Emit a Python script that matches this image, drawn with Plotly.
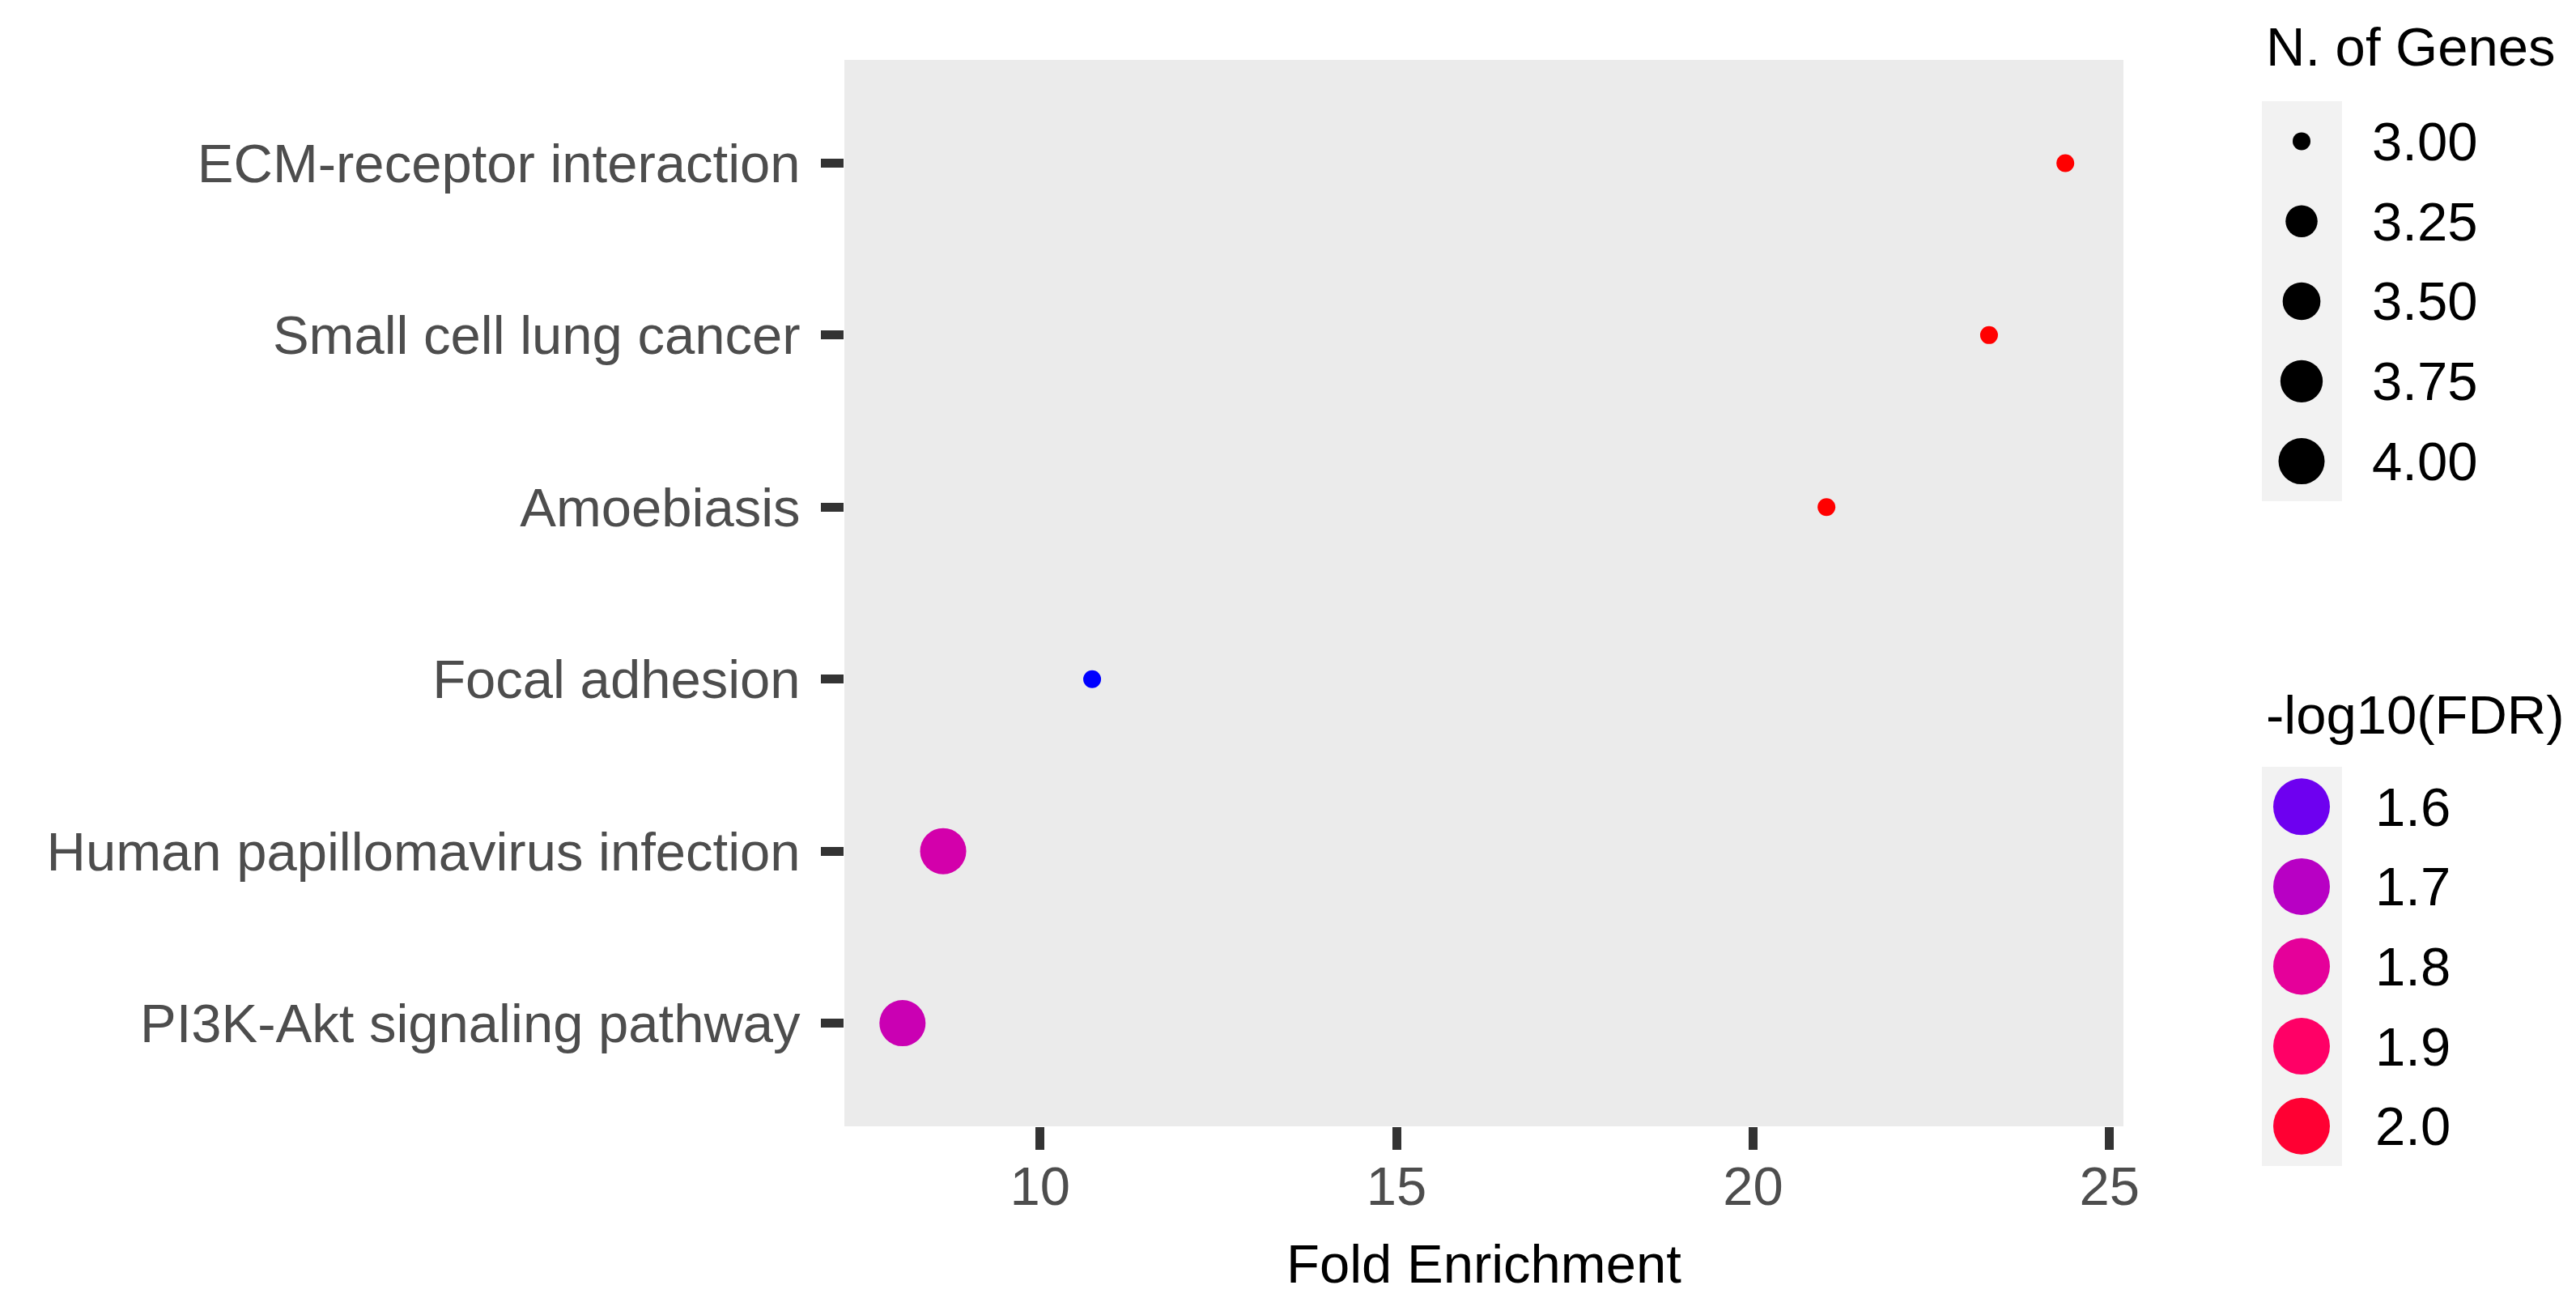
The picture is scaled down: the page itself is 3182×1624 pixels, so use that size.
import numpy as np
import plotly.graph_objects as go

# ---------------- data ----------------
pathways = ["PI3K-Akt signaling pathway", "Human papillomavirus infection",
            "Focal adhesion", "Amoebiasis", "Small cell lung cancer",
            "ECM-receptor interaction"]
fold_enrichment = [8.07, 8.64, 10.73, 21.03, 23.31, 24.38]
n_genes = [4, 4, 3, 3, 3, 3]
neg_log10_fdr = [1.74, 1.76, 1.50, 2.05, 2.05, 2.05]

x_ticks = [10, 15, 20, 25]
size_breaks = [3.00, 3.25, 3.50, 3.75, 4.00]
size_labels = ["3.00", "3.25", "3.50", "3.75", "4.00"]
fdr_breaks = [1.6, 1.7, 1.8, 1.9, 2.0]
fdr_labels = ["1.6", "1.7", "1.8", "1.9", "2.0"]

# ---------------- style ----------------
W, H = 3182, 1624
FONT = "Liberation Sans, Arial, Helvetica, sans-serif"
low_col, high_col = "#0000FF", "#FF0000"
break_cols = ["#6E00F0", "#B800C4", "#E5009A", "#FF0066", "#FF0033"]

cmin, cmax = min(neg_log10_fdr), max(neg_log10_fdr)
colorscale = [[0.0, low_col]]
for b, c in zip(fdr_breaks, break_cols):
    colorscale.append([(b - cmin) / (cmax - cmin), c])
colorscale.append([1.0, high_col])

smin, smax = min(size_breaks), max(size_breaks)


def px_size(n):
    t = max(0.0, (n - smin) / (smax - smin))
    return 22 + 35 * np.sqrt(t)


def fx(px):
    return px / W


def fy(py):
    return 1 - py / H


xmin, xmax = min(fold_enrichment), max(fold_enrichment)
pad = 0.05 * (xmax - xmin)

fig = go.Figure()

fig.add_trace(go.Scatter(
    x=fold_enrichment, y=pathways, mode="markers",
    marker=dict(size=[px_size(n) for n in n_genes], color=neg_log10_fdr,
                colorscale=colorscale, cmin=cmin, cmax=cmax,
                line=dict(width=0), opacity=1),
    xaxis="x", yaxis="y", showlegend=False, hoverinfo="x+y"))

# size legend keys
fig.add_trace(go.Scatter(
    x=[49] * len(size_breaks), y=list(range(len(size_breaks))), mode="markers",
    marker=dict(size=[px_size(b) for b in size_breaks], color="black",
                line=dict(width=0), opacity=1),
    xaxis="x2", yaxis="y2", showlegend=False, hoverinfo="skip"))

# colour legend keys
fig.add_trace(go.Scatter(
    x=[49] * len(fdr_breaks), y=list(range(len(fdr_breaks))), mode="markers",
    marker=dict(size=70, color=fdr_breaks, colorscale=colorscale,
                cmin=cmin, cmax=cmax, line=dict(width=0), opacity=1),
    xaxis="x2", yaxis="y3", showlegend=False, hoverinfo="skip"))

annotations = []
for i, lab in enumerate(size_labels):
    annotations.append(dict(x=134, y=i, xref="x2", yref="y2", text=lab,
                            showarrow=False, xanchor="left", yanchor="middle",
                            font=dict(family=FONT, size=67, color="black")))
for i, lab in enumerate(fdr_labels):
    annotations.append(dict(x=138, y=i, xref="x2", yref="y3", text=lab,
                            showarrow=False, xanchor="left", yanchor="middle",
                            font=dict(family=FONT, size=67, color="black")))
annotations.append(dict(x=fx(2797), y=fy(58), xref="paper", yref="paper",
                        text="N. of Genes", showarrow=False, xanchor="left",
                        yanchor="middle",
                        font=dict(family=FONT, size=67, color="black")))
annotations.append(dict(x=fx(2797), y=fy(882), xref="paper", yref="paper",
                        text="-log10(FDR)", showarrow=False, xanchor="left",
                        yanchor="middle",
                        font=dict(family=FONT, size=67, color="black")))
annotations.append(dict(x=fx((1043 + 2623) / 2), y=fy(1560),
                        xref="paper", yref="paper", text="Fold Enrichment",
                        showarrow=False, xanchor="center", yanchor="middle",
                        font=dict(family=FONT, size=67, color="black")))

shapes = [
    dict(type="rect", xref="x domain", yref="y domain", x0=0, x1=1, y0=0, y1=1,
         fillcolor="#EBEBEB", line=dict(width=0), layer="below"),
    dict(type="rect", xref="x2", yref="y2", x0=0, x1=99, y0=-0.5, y1=4.5,
         fillcolor="#F2F2F2", line=dict(width=0), layer="below"),
    dict(type="rect", xref="x2", yref="y3", x0=0, x1=99, y0=-0.5, y1=4.5,
         fillcolor="#F2F2F2", line=dict(width=0), layer="below"),
]

axis_common = dict(showgrid=False, zeroline=False, showline=False,
                   automargin=False,
                   ticks="outside", ticklen=28, tickwidth=11,
                   tickcolor="#333333",
                   tickfont=dict(family=FONT, size=67, color="#4D4D4D"))

fig.update_layout(
    template="none",
    width=W, height=H, margin=dict(l=0, r=0, t=0, b=0, pad=0),
    paper_bgcolor="white", plot_bgcolor="rgba(0,0,0,0)",
    font=dict(family=FONT),
    xaxis=dict(domain=[fx(1043), fx(2623)], range=[xmin - pad, xmax + pad],
               tickmode="array", tickvals=x_ticks,
               ticktext=[str(v) for v in x_ticks], anchor="y",
               ticklabelstandoff=-12, **axis_common),
    yaxis=dict(domain=[fy(1391), fy(74)], type="category",
               categoryorder="array", categoryarray=pathways,
               range=[-0.6, len(pathways) - 1 + 0.6], anchor="x",
               ticklabelstandoff=12, **axis_common),
    xaxis2=dict(domain=[fx(2794), 1], range=[0, W - 2794], visible=False,
                anchor="y2", fixedrange=True),
    yaxis2=dict(domain=[fy(619), fy(125)], range=[4.5, -0.5],
                visible=False, anchor="x2", fixedrange=True),
    yaxis3=dict(domain=[fy(1440), fy(947)], range=[4.5, -0.5],
                visible=False, anchor="x2", fixedrange=True),
    annotations=annotations, shapes=shapes, showlegend=False,
)

fig.write_html("out.html",
               config={"displayModeBar": False},
               post_script="document.body.style.margin='0';"
                           "document.body.style.overflow='hidden';")
